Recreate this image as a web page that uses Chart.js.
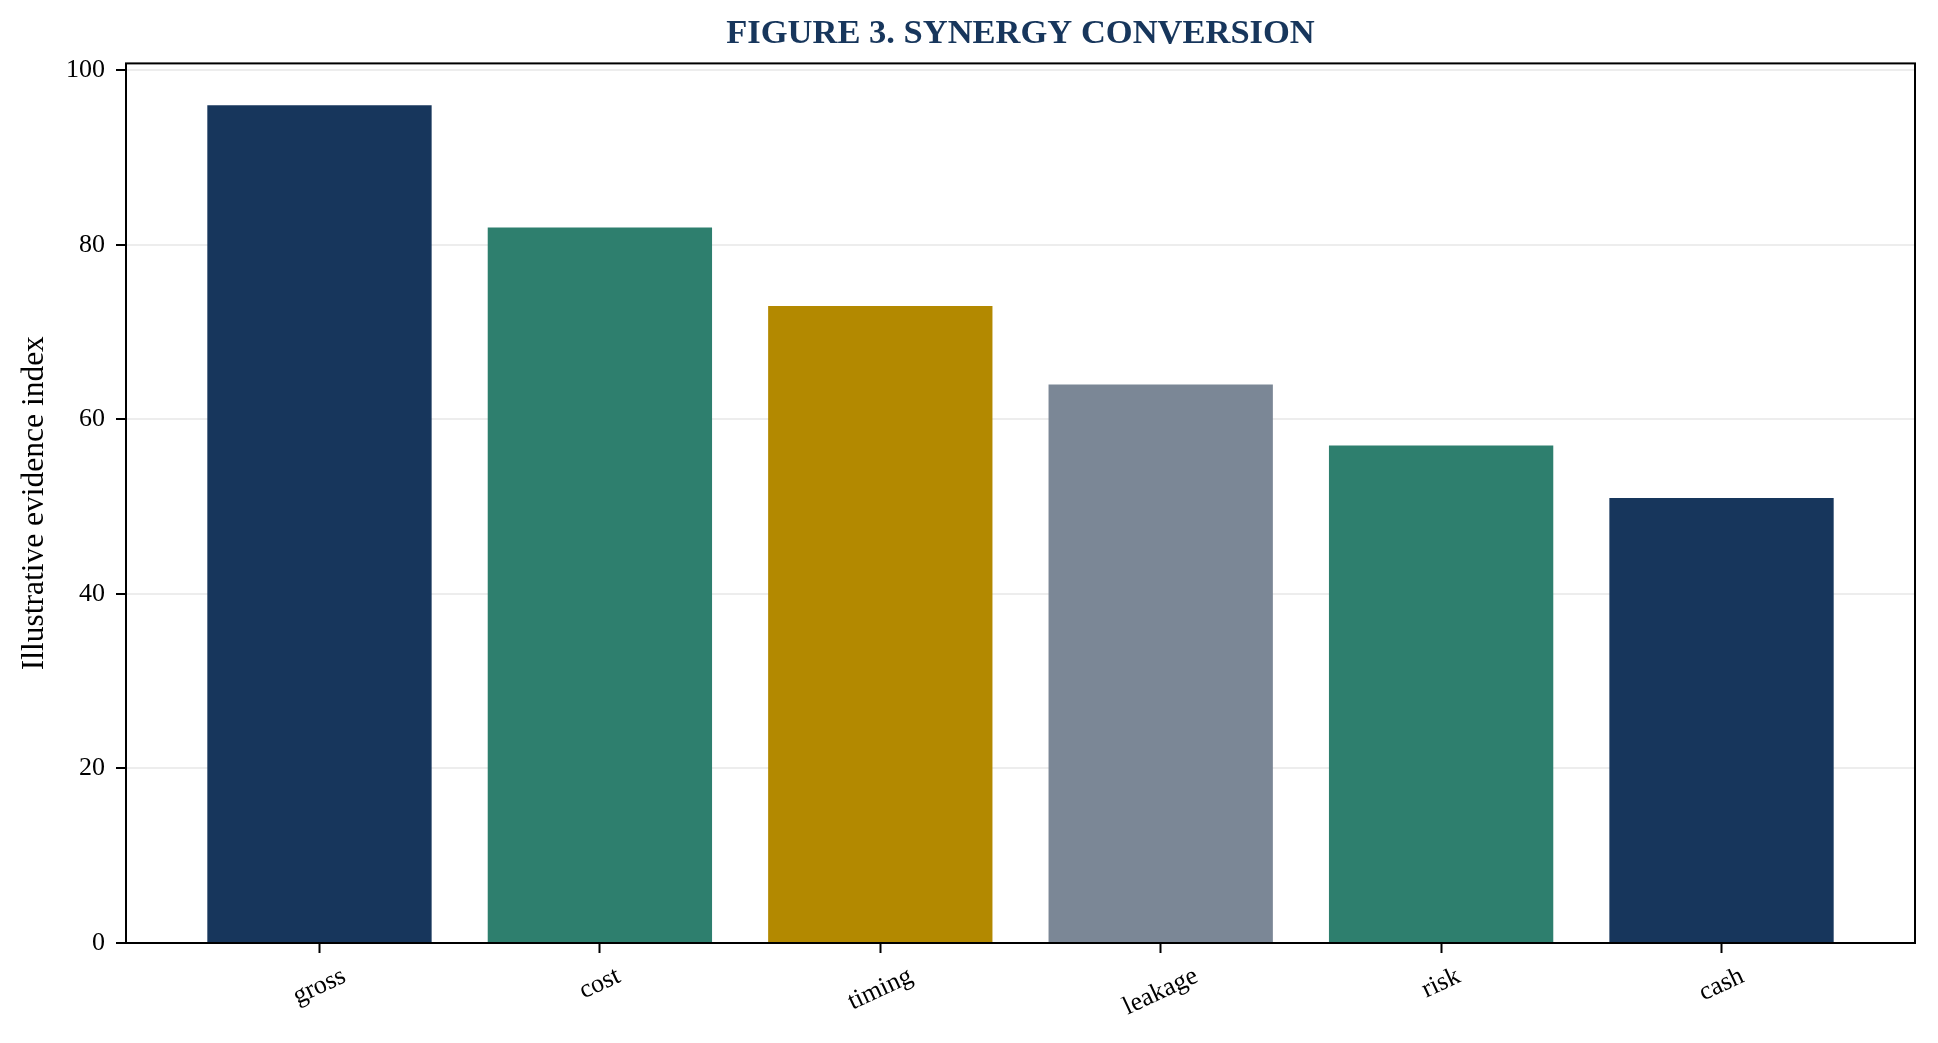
<!DOCTYPE html>
<html>
<head>
<meta charset="utf-8">
<title>Figure 3. Synergy conversion</title>
<script src="https://cdn.jsdelivr.net/npm/chart.js@4.4.1/dist/chart.umd.min.js"></script>
<style>
    html, body { margin: 0; padding: 0; background: #ffffff; }
    #wrap { width: 1938px; height: 1043px; position: relative; }
</style>
</head>
<body>
<div id="wrap"><canvas id="synergyChart"></canvas></div>
<script>
// Chart data
const categories = ['gross', 'cost', 'timing', 'leakage', 'risk', 'cash'];
const values = [96, 82, 73, 64, 57, 51];
const barColors = ['#17365c', '#2e7f6e', '#b38900', '#7b8796', '#2e7f6e', '#17365c'];
const yTicks = [0, 20, 40, 60, 80, 100];
const xRange = [-0.69, 5.69];
const yRange = [0, 100.8];

const SERIF = "'Liberation Serif', 'Times New Roman', serif";
const TICK_SIZE = 26;

// Full box around the plot area (matplotlib style spines)
const framePlugin = {
    id: 'frame',
    afterDraw(chart) {
        const { ctx, chartArea: a } = chart;
        ctx.save();
        ctx.strokeStyle = '#000';
        ctx.lineWidth = 2;
        ctx.strokeRect(a.left, a.top, a.right - a.left, a.bottom - a.top);
        ctx.restore();
    }
};

// Rotated x labels, centred on each tick
const xLabelPlugin = {
    id: 'xLabels',
    afterDraw(chart) {
        const { ctx, chartArea: a } = chart;
        const xScale = chart.scales.x;
        const angle = 25 * Math.PI / 180;
        ctx.save();
        ctx.font = `${TICK_SIZE}px ${SERIF}`;
        ctx.fillStyle = '#000';
        ctx.textAlign = 'center';
        ctx.textBaseline = 'middle';
        categories.forEach((label, i) => {
            const w = ctx.measureText(label).width;
            const h = TICK_SIZE * 1.1;
            const boxH = w * Math.sin(angle) + h * Math.cos(angle);
            const x = xScale.getPixelForValue(i);
            const y = a.bottom + 19 + boxH / 2;
            ctx.save();
            ctx.translate(x, y);
            ctx.rotate(-angle);
            ctx.fillText(label, 0, 0);
            ctx.restore();
        });
        ctx.restore();
    }
};

const ctx = document.getElementById('synergyChart');

new Chart(ctx, {
    type: 'bar',
    data: {
        datasets: [{
            data: categories.map((c, i) => ({ x: i, y: values[i] })),
            backgroundColor: barColors,
            borderWidth: 0,
            barPercentage: 0.8,
            categoryPercentage: 1.0
        }]
    },
    options: {
        responsive: true,
        maintainAspectRatio: false,
        animation: false,
        layout: { padding: { left: 0, right: 23, top: 0, bottom: 0 } },
        plugins: {
            legend: { display: false },
            tooltip: { enabled: false },
            title: {
                display: true,
                fullSize: false,
                text: 'FIGURE 3. SYNERGY CONVERSION',
                color: '#17365c',
                font: { family: SERIF, size: 34.5, weight: 'bold', lineHeight: 1.2 },
                padding: { top: 13, bottom: 9 }
            }
        },
        scales: {
            x: {
                type: 'linear',
                min: xRange[0],
                max: xRange[1],
                offset: false,
                afterBuildTicks: s => { s.ticks = categories.map((c, i) => ({ value: i })); },
                afterFit: s => { s.height = 100; },
                ticks: { display: false },
                border: { display: false },
                grid: {
                    offset: false,
                    drawOnChartArea: false,
                    drawTicks: true,
                    tickLength: 10,
                    tickWidth: 2,
                    tickColor: '#000'
                }
            },
            y: {
                min: yRange[0],
                max: yRange[1],
                z: 1,
                afterBuildTicks: s => { s.ticks = yTicks.map(v => ({ value: v })); },
                afterFit: s => { s.width = 126; },
                border: { display: false },
                grid: {
                    color: 'rgba(204, 204, 204, 0.35)',
                    lineWidth: 2,
                    drawTicks: true,
                    tickLength: 10,
                    tickWidth: 2,
                    tickColor: '#000'
                },
                ticks: {
                    color: '#000',
                    padding: 11,
                    font: { family: SERIF, size: TICK_SIZE }
                },
                title: {
                    display: true,
                    text: 'Illustrative evidence index',
                    color: '#000',
                    font: { family: SERIF, size: 31.5, lineHeight: 1.2 },
                    padding: { top: 16, bottom: 0 }
                }
            }
        }
    },
    plugins: [framePlugin, xLabelPlugin]
});
</script>
</body>
</html>
